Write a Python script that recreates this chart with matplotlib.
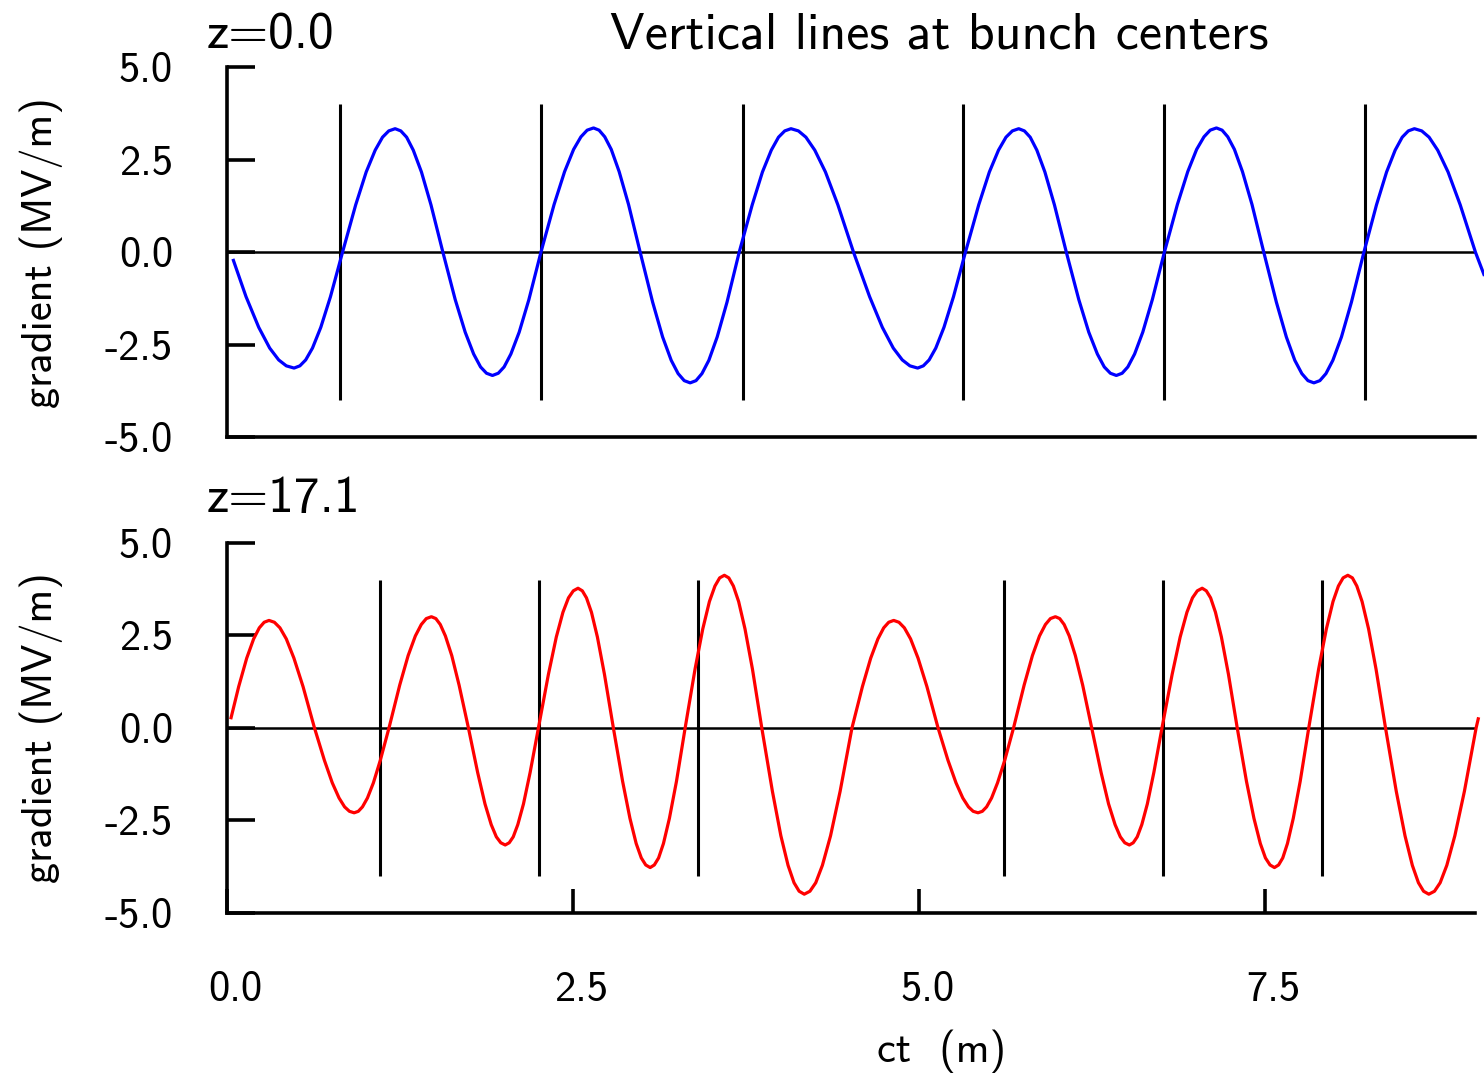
import numpy as np
import matplotlib
matplotlib.use('Agg')
import matplotlib.pyplot as plt
import matplotlib.transforms as mtransforms

# Computer Modern sans ships with matplotlib; keep DejaVu as fallback
plt.rcParams['font.family'] = ['cmss10', 'DejaVu Sans']
plt.rcParams['axes.unicode_minus'] = False

# Gradient seen by the beam at z=0.0 (MV/m vs ct in m)
z0_ct = [0.046,
         0.137, 0.229, 0.308, 0.373, 0.428, 0.484,
         0.526, 0.568, 0.617, 0.677, 0.747, 0.834,
         0.929, 1.005, 1.070, 1.123, 1.168, 1.214,
         1.255, 1.297, 1.345, 1.404, 1.473, 1.559,
         1.648, 1.720, 1.781, 1.831, 1.874, 1.917,
         1.959, 2.001, 2.050, 2.110, 2.180, 2.267,
         2.362, 2.438, 2.503, 2.556, 2.601, 2.647,
         2.687, 2.728, 2.775, 2.832, 2.900, 2.984,
         3.074, 3.146, 3.208, 3.258, 3.302, 3.345,
         3.387, 3.430, 3.480, 3.540, 3.611, 3.699,
         3.793, 3.867, 3.931, 3.983, 4.028, 4.073,
         4.127, 4.181, 4.245, 4.322, 4.412, 4.525,
         4.641, 4.733, 4.812, 4.877, 4.932, 4.988,
         5.029, 5.071, 5.119, 5.178, 5.247, 5.333,
         5.429, 5.506, 5.572, 5.626, 5.672, 5.718,
         5.759, 5.801, 5.849, 5.907, 5.976, 6.062,
         6.152, 6.224, 6.286, 6.336, 6.380, 6.423,
         6.465, 6.506, 6.555, 6.614, 6.683, 6.770,
         6.864, 6.939, 7.003, 7.056, 7.101, 7.146,
         7.187, 7.228, 7.276, 7.334, 7.403, 7.488,
         7.579, 7.651, 7.712, 7.763, 7.807, 7.850,
         7.893, 7.937, 7.987, 8.049, 8.121, 8.211,
         8.302, 8.375, 8.437, 8.488, 8.532, 8.576,
         8.629, 8.682, 8.744, 8.819, 8.907, 9.017,
         9.078]
z0_grad = [-0.22,
           -1.20, -2.03, -2.59, -2.91, -3.07, -3.13,
           -3.07, -2.91, -2.59, -2.03, -1.20, 0.00,
           1.28, 2.17, 2.76, 3.11, 3.28, 3.34,
           3.28, 3.11, 2.76, 2.17, 1.28, 0.00,
           -1.28, -2.16, -2.75, -3.10, -3.27, -3.33,
           -3.27, -3.10, -2.75, -2.16, -1.28, 0.00,
           1.29, 2.18, 2.78, 3.12, 3.30, 3.36,
           3.30, 3.12, 2.78, 2.18, 1.29, 0.00,
           -1.35, -2.29, -2.92, -3.28, -3.47, -3.53,
           -3.47, -3.28, -2.92, -2.29, -1.35, 0.00,
           1.28, 2.17, 2.76, 3.11, 3.28, 3.34,
           3.28, 3.11, 2.76, 2.17, 1.28, 0.00,
           -1.20, -2.03, -2.59, -2.91, -3.07, -3.13,
           -3.07, -2.91, -2.59, -2.03, -1.20, 0.00,
           1.28, 2.17, 2.76, 3.11, 3.28, 3.34,
           3.28, 3.11, 2.76, 2.17, 1.28, 0.00,
           -1.28, -2.16, -2.75, -3.10, -3.27, -3.33,
           -3.27, -3.10, -2.75, -2.16, -1.28, 0.00,
           1.29, 2.18, 2.78, 3.12, 3.30, 3.36,
           3.30, 3.12, 2.78, 2.18, 1.29, 0.00,
           -1.35, -2.29, -2.92, -3.28, -3.47, -3.53,
           -3.47, -3.28, -2.92, -2.29, -1.35, 0.00,
           1.28, 2.17, 2.76, 3.11, 3.28, 3.34,
           3.28, 3.11, 2.76, 2.17, 1.28, 0.00,
           -0.60]
z0_bunches = [0.814, 2.267, 3.723, 5.313, 6.768, 8.220]

# Gradient at z=17.1
z17_ct = [0.029,
          0.084, 0.142, 0.192, 0.233, 0.268, 0.303,
          0.342, 0.382, 0.428, 0.483, 0.549, 0.631,
          0.703, 0.760, 0.809, 0.849, 0.884, 0.918,
          0.948, 0.978, 1.014, 1.057, 1.107, 1.170,
          1.247, 1.308, 1.360, 1.403, 1.439, 1.476,
          1.508, 1.540, 1.577, 1.623, 1.676, 1.743,
          1.810, 1.863, 1.908, 1.945, 1.977, 2.009,
          2.038, 2.067, 2.100, 2.141, 2.189, 2.249,
          2.321, 2.378, 2.426, 2.466, 2.501, 2.535,
          2.566, 2.596, 2.632, 2.675, 2.726, 2.790,
          2.857, 2.910, 2.955, 2.992, 3.024, 3.056,
          3.086, 3.117, 3.152, 3.195, 3.246, 3.309,
          3.380, 3.436, 3.484, 3.524, 3.558, 3.592,
          3.624, 3.657, 3.695, 3.741, 3.795, 3.862,
          3.939, 4.000, 4.052, 4.095, 4.132, 4.169,
          4.210, 4.252, 4.300, 4.359, 4.428, 4.514,
          4.589, 4.649, 4.701, 4.743, 4.779, 4.815,
          4.853, 4.892, 4.937, 4.991, 5.055, 5.135,
          5.207, 5.265, 5.314, 5.355, 5.389, 5.424,
          5.455, 5.486, 5.522, 5.565, 5.617, 5.681,
          5.757, 5.817, 5.868, 5.911, 5.947, 5.983,
          6.014, 6.046, 6.083, 6.127, 6.180, 6.245,
          6.313, 6.367, 6.414, 6.452, 6.484, 6.517,
          6.545, 6.574, 6.607, 6.647, 6.694, 6.753,
          6.826, 6.884, 6.933, 6.973, 7.008, 7.043,
          7.073, 7.104, 7.139, 7.182, 7.233, 7.296,
          7.363, 7.417, 7.463, 7.500, 7.533, 7.565,
          7.595, 7.625, 7.659, 7.701, 7.751, 7.813,
          7.884, 7.940, 7.988, 8.027, 8.061, 8.095,
          8.128, 8.160, 8.198, 8.245, 8.299, 8.367,
          8.445, 8.508, 8.561, 8.605, 8.642, 8.680,
          8.721, 8.762, 8.810, 8.868, 8.937, 9.022,
          9.037]
z17_grad = [0.27,
            1.11, 1.88, 2.40, 2.70, 2.85, 2.90,
            2.85, 2.70, 2.40, 1.88, 1.11, 0.00,
            -0.88, -1.49, -1.90, -2.14, -2.26, -2.30,
            -2.26, -2.14, -1.90, -1.49, -0.88, 0.00,
            1.15, 1.95, 2.48, 2.79, 2.95, 3.00,
            2.95, 2.79, 2.48, 1.95, 1.15, 0.00,
            -1.21, -2.06, -2.62, -2.95, -3.11, -3.17,
            -3.11, -2.95, -2.62, -2.06, -1.21, 0.00,
            1.44, 2.45, 3.12, 3.51, 3.70, 3.77,
            3.70, 3.51, 3.12, 2.45, 1.44, 0.00,
            -1.45, -2.45, -3.13, -3.52, -3.71, -3.78,
            -3.71, -3.52, -3.13, -2.45, -1.45, 0.00,
            1.58, 2.67, 3.41, 3.83, 4.05, 4.12,
            4.05, 3.83, 3.41, 2.67, 1.58, 0.00,
            -1.72, -2.92, -3.72, -4.19, -4.42, -4.50,
            -4.42, -4.19, -3.72, -2.92, -1.72, 0.00,
            1.11, 1.88, 2.40, 2.70, 2.85, 2.90,
            2.85, 2.70, 2.40, 1.88, 1.11, 0.00,
            -0.88, -1.49, -1.90, -2.14, -2.26, -2.30,
            -2.26, -2.14, -1.90, -1.49, -0.88, 0.00,
            1.15, 1.95, 2.48, 2.79, 2.95, 3.00,
            2.95, 2.79, 2.48, 1.95, 1.15, 0.00,
            -1.21, -2.06, -2.62, -2.95, -3.11, -3.17,
            -3.11, -2.95, -2.62, -2.06, -1.21, 0.00,
            1.44, 2.45, 3.12, 3.51, 3.70, 3.77,
            3.70, 3.51, 3.12, 2.45, 1.44, 0.00,
            -1.45, -2.45, -3.13, -3.52, -3.71, -3.78,
            -3.71, -3.52, -3.13, -2.45, -1.45, 0.00,
            1.58, 2.67, 3.41, 3.83, 4.05, 4.12,
            4.05, 3.83, 3.41, 2.67, 1.58, 0.00,
            -1.72, -2.92, -3.72, -4.19, -4.42, -4.50,
            -4.42, -4.19, -3.72, -2.92, -1.72, 0.00,
            0.24]
z17_bunches = [1.105, 2.254, 3.405, 5.609, 6.758, 7.907]

y_ticks = [-5.0, -2.5, 0.0, 2.5, 5.0]
x_ticks = [0.0, 2.5, 5.0, 7.5]

fig = plt.figure(figsize=(14.84, 10.73), dpi=100)
ax_top = fig.add_axes([0.1530, 0.5925, 0.8406, 0.3448])
ax_bot = fig.add_axes([0.1530, 0.1494, 0.8406, 0.3448])

panels = [
    (ax_top, z0_ct, z0_grad, z0_bunches, 'blue', 'z=0.0', 1.052),
    (ax_bot, z17_ct, z17_grad, z17_bunches, 'red', 'z=17.1', 1.084),
]
for ax, ct, grad, bunches, color, zlabel, zy in panels:
    ax.set_xlim(0, 9.01)
    ax.set_ylim(-5, 5)
    for side in ['top', 'right']:
        ax.spines[side].set_visible(False)
    for side in ['left', 'bottom']:
        ax.spines[side].set_linewidth(2.6)
    ax.axhline(0, color='black', lw=1.8, zorder=1)
    ax.vlines(bunches, -4, 4, color='black', lw=2.2, zorder=2)
    ax.plot(ct, grad, color=color, lw=2.3, zorder=3, clip_on=False,
            solid_joinstyle='round')
    ax.set_yticks(y_ticks)
    ax.set_yticklabels(['%.1f' % v for v in y_ticks])
    ax.tick_params(axis='y', direction='in', length=20, width=2.6,
                   pad=39, labelsize=30.5)
    ax.set_ylabel('gradient (MV/m)', fontsize=30.5)
    ax.yaxis.set_label_coords(-0.1315, 0.5)
    ax.text(-0.016, zy, zlabel, transform=ax.transAxes, fontsize=37,
            ha='left', va='baseline')

ax_top.tick_params(axis='x', bottom=False, labelbottom=False)
ax_top.text(0.571, 1.052, 'Vertical lines at bunch centers',
            transform=ax_top.transAxes, fontsize=37.5, ha='center',
            va='baseline')

ax_bot.set_xticks(x_ticks)
ax_bot.set_xticklabels(['%.1f' % v for v in x_ticks])
ax_bot.tick_params(axis='x', direction='in', length=17, width=2.6,
                   pad=42, labelsize=30.5)
shift = mtransforms.ScaledTranslation(0.08, 0, fig.dpi_scale_trans)
for lab in ax_bot.get_xticklabels():
    lab.set_transform(lab.get_transform() + shift)
ax_bot.set_xlabel('ct  (m)', fontsize=30.5)
ax_bot.xaxis.set_label_coords(0.573, -0.317)

fig.savefig('out.png', dpi=100)
